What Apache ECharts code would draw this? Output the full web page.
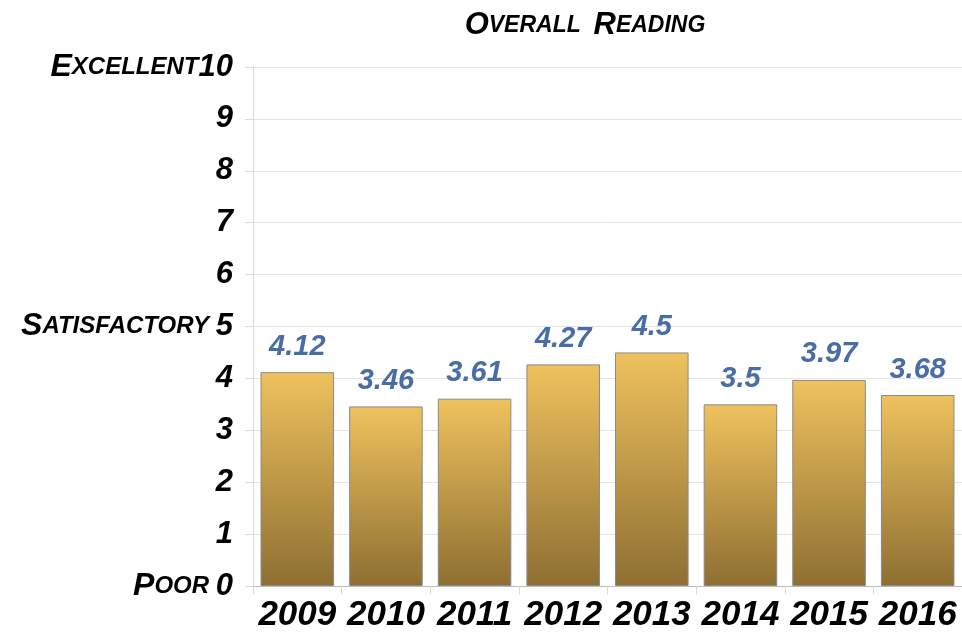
<!DOCTYPE html>
<html><head><meta charset="utf-8">
<script src="https://cdn.jsdelivr.net/npm/echarts@6/dist/echarts.min.js"></script>
<style>html,body{margin:0;padding:0;background:#fff}#c{width:962px;height:635px}</style>
</head><body><div id="c"></div>
<script>
const titleText = 'Overall Reading';
const categories = ['2009','2010','2011','2012','2013','2014','2015','2016'];
const values = [4.12, 3.46, 3.61, 4.27, 4.5, 3.5, 3.97, 3.68];
const yTickNames = {0: 'Poor', 5: 'Satisfactory', 10: 'Excellent'};

const FONT = '"Liberation Sans", Arial, sans-serif';
function smallCaps(word, capStyle, scStyle) {
  let out = '';
  const parts = word.split(' ');
  parts.forEach((w, i) => {
    if (i) out += '{' + scStyle + '|  }';
    out += '{' + capStyle + '|' + w[0].toUpperCase() + '}';
    if (w.length > 1) out += '{' + scStyle + '|' + w.slice(1).toUpperCase() + '}';
  });
  return out;
}

const chart = echarts.init(document.getElementById('c'), null, {renderer: 'canvas'});
chart.setOption({
  animation: false,
  title: {
    text: smallCaps(titleText, 'cap', 'sc'),
    left: 580, top: 5, textAlign: 'center',
    textStyle: {
      rich: {
        cap: {fontFamily: FONT, fontStyle: 'italic', fontWeight: 'bold', fontSize: 31, color: '#000'},
        sc: {fontFamily: FONT, fontStyle: 'italic', fontWeight: 'bold', fontSize: 23, color: '#000'}
      }
    }
  },
  grid: {left: 253, top: 67, width: 713, height: 519, containLabel: false},
  xAxis: {
    type: 'category',
    data: categories,
    axisLine: {show: true, lineStyle: {color: '#bbbbbb', width: 1}},
    axisTick: {show: true, length: 8, lineStyle: {color: '#d9d9d9'}},
    axisLabel: {
      interval: 0, hideOverlap: false,
      margin: 12, color: '#000', fontFamily: FONT, fontStyle: 'italic', fontWeight: 'bold', fontSize: 35
    }
  },
  yAxis: {
    type: 'value', min: 0, max: 10, interval: 1,
    axisLine: {show: true, lineStyle: {color: '#d9d9d9'}},
    axisTick: {show: true, length: 8, lineStyle: {color: '#d9d9d9'}},
    splitLine: {show: true, lineStyle: {color: '#e3e3e3', width: 1}},
    axisLabel: {
      margin: 20,
      formatter: function (v) {
        const name = yTickNames[v];
        if (name) return smallCaps(name, 'cap', 'sc') + (v === 10 ? '' : '{sc| }') + '{num|' + v + '}';
        return '{num|' + v + '}';
      },
      rich: {
        cap: {fontFamily: FONT, fontStyle: 'italic', fontWeight: 'bold', fontSize: 32, color: '#000'},
        sc: {fontFamily: FONT, fontStyle: 'italic', fontWeight: 'bold', fontSize: 24, color: '#000'},
        num: {fontFamily: FONT, fontStyle: 'italic', fontWeight: 'bold', fontSize: 31, color: '#000'}
      }
    }
  },
  series: [{
    type: 'bar',
    data: values,
    barCategoryGap: '17%',
    itemStyle: {
      borderColor: '#8a8a8a', borderWidth: 1,
      color: new echarts.graphic.LinearGradient(0, 0, 0, 1, [
        {offset: 0, color: '#EFC25E'},
        {offset: 1, color: '#8E6F32'}
      ])
    },
    label: {
      show: true, position: 'top', distance: 11,
      color: '#4A6DA7', fontFamily: FONT, fontStyle: 'italic', fontWeight: 'bold', fontSize: 29
    }
  }]
});
</script></body></html>
